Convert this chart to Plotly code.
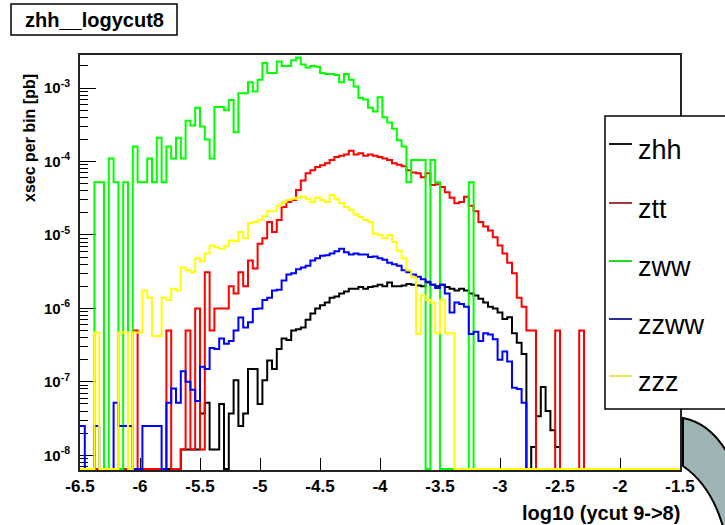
import numpy as np
import plotly.graph_objects as go

# ---- canvas geometry (pixels) ----
W, H = 725, 525
L_PX, R_PX, T_PX, B_PX = 80, 680, 55, 470

# ---- histogram binning ----
X_MIN, X_MAX, N_BINS = -6.5, -1.5, 125
Y_LOG_RANGE = [-8.2, -2.55]

# ---- per-bin cross sections [pb], 125 bins from -6.5 to -1.5 ----
zhh = [
    0, 0, 0, 0, 0, 0, 0, 0, 0, 0,
    0, 0, 0, 0, 0, 0, 0, 0, 0, 0,
    0, 1.2e-8, 1.2e-8, 1.2e-8, 1.2e-8, 3.7e-8, 5.2e-8, 1.2e-8, 1.2e-8, 5.0e-8,
    0, 3.7e-8, 1.05e-7, 2.5e-8, 3.7e-8, 1.5e-7, 1.5e-7, 5.0e-8, 1.05e-7, 1.95e-7,
    1.5e-7, 2.8e-7, 3.9e-7, 3.7e-7, 5.0e-7, 5.2e-7, 5.5e-7, 7.0e-7, 8.5e-7, 1.0e-6,
    1.1e-6, 1.2e-6, 1.4e-6, 1.45e-6, 1.6e-6, 1.7e-6, 1.85e-6, 1.85e-6, 1.95e-6, 1.85e-6,
    1.95e-6, 2.0e-6, 2.1e-6, 2.0e-6, 2.25e-6, 2.0e-6, 2.0e-6, 2.05e-6, 2.15e-6, 2.1e-6,
    2.05e-6, 2.0e-6, 2.25e-6, 2.1e-6, 2.0e-6, 2.1e-6, 1.95e-6, 1.85e-6, 1.75e-6, 1.85e-6,
    1.75e-6, 1.6e-6, 1.5e-6, 1.35e-6, 1.2e-6, 1.05e-6, 1.0e-6, 8.8e-7, 7.2e-7, 7.6e-7,
    4.6e-7, 3.4e-7, 2.4e-7, 0, 1.3e-8, 3.4e-8, 8.5e-8, 4.0e-8, 2.2e-8, 1.3e-8,
    0, 0, 0, 0, 0, 0, 0, 0, 0, 0,
    0, 0, 0, 0, 0, 0, 0, 0, 0, 0,
    0, 0, 0, 0, 0,
]

ztt = [
    0, 0, 0, 0, 0, 0, 0, 0, 0, 0,
    0, 5e-7, 0, 0, 0, 0, 0, 0, 5e-7, 0,
    0, 1.2e-8, 5e-7, 1.2e-8, 1.0e-6, 1.2e-8, 3.1e-6, 5e-7, 1.0e-6, 1.0e-6,
    1.0e-6, 2.0e-6, 1.6e-6, 3.1e-6, 2.0e-6, 4.5e-6, 3.5e-6, 7.6e-6, 9.0e-6, 1.5e-5,
    1.1e-5, 1.6e-5, 2.4e-5, 2.8e-5, 3.0e-5, 4.1e-5, 5.5e-5, 6.9e-5, 7.6e-5, 8.4e-5,
    8.9e-5, 9.5e-5, 1.05e-4, 1.15e-4, 1.2e-4, 1.25e-4, 1.4e-4, 1.25e-4, 1.3e-4, 1.2e-4,
    1.25e-4, 1.2e-4, 1.15e-4, 1.1e-4, 1.05e-4, 9.5e-5, 9.0e-5, 8.6e-5, 7.6e-5, 7.1e-5,
    6.9e-5, 6.1e-5, 6.9e-5, 4.8e-5, 4.9e-5, 4.5e-5, 3.8e-5, 3.2e-5, 2.7e-5, 2.8e-5,
    3.3e-5, 2.5e-5, 2.1e-5, 1.5e-5, 1.3e-5, 1.15e-5, 9.3e-6, 7.2e-6, 5.6e-6, 4.2e-6,
    3.0e-6, 1.4e-6, 1.05e-6, 5e-7, 5e-7, 0, 0, 0, 0, 5e-7,
    0, 0, 0, 0, 5e-7, 0, 0, 0, 0, 0,
    0, 0, 0, 0, 0, 0, 0, 0, 0, 0,
    0, 0, 0, 0, 0,
]

zww = [
    0, 0, 0, 5.2e-5, 5.2e-5, 0, 1.1e-4, 5.2e-5, 0, 5.2e-5,
    0, 1.6e-4, 5.2e-5, 5.2e-5, 1.1e-4, 5.2e-5, 2.1e-4, 5.2e-5, 1.6e-4, 1.1e-4,
    2.1e-4, 1.1e-4, 3.6e-4, 3.1e-4, 5.4e-4, 3.0e-4, 2.0e-4, 1.1e-4, 5.5e-4, 5.5e-4,
    5.0e-4, 6.9e-4, 2.5e-4, 8.5e-4, 8.5e-4, 1.2e-3, 9.0e-4, 1.3e-3, 2.2e-3, 1.6e-3,
    1.6e-3, 2.3e-3, 2.0e-3, 2.0e-3, 2.4e-3, 2.6e-3, 2.1e-3, 1.9e-3, 2.0e-3, 1.95e-3,
    1.6e-3, 1.55e-3, 1.55e-3, 1.5e-3, 1.2e-3, 1.55e-3, 1.3e-3, 1.05e-3, 7.3e-4, 7.0e-4,
    5.4e-4, 4.8e-4, 7.5e-4, 4.0e-4, 3.4e-4, 2.8e-4, 1.95e-4, 1.6e-4, 5.2e-5, 1.05e-4,
    1.05e-4, 1.05e-4, 0, 1.05e-4, 5.2e-5, 0, 0, 0, 0, 0,
    0, 5.2e-5, 0, 0, 0, 0, 0, 0, 0, 0,
    0, 0, 0, 0, 0, 0, 0, 0, 0, 0,
    0, 0, 0, 0, 0, 0, 0, 0, 0, 0,
    0, 0, 0, 0, 0, 0, 0, 0, 0, 0,
    0, 0, 0, 0, 0,
]

zzww = [
    2.5e-8, 0, 0, 2.5e-8, 0, 0, 0, 5.2e-8, 2.5e-8, 2.5e-8,
    2.5e-8, 0, 0, 2.5e-8, 2.5e-8, 2.5e-8, 2.5e-8, 0, 5.2e-8, 8.1e-8,
    5.2e-8, 1.4e-7, 1.0e-7, 7.8e-8, 5.5e-8, 1.6e-7, 1.5e-7, 2.9e-7, 2.8e-7, 3.9e-7,
    3.3e-7, 3.6e-7, 5.0e-7, 7.5e-7, 5.5e-7, 6.5e-7, 9.8e-7, 1.0e-6, 1.3e-6, 1.4e-6,
    1.75e-6, 1.8e-6, 2.4e-6, 2.9e-6, 3.0e-6, 3.4e-6, 3.6e-6, 3.8e-6, 4.5e-6, 4.8e-6,
    5.2e-6, 5.3e-6, 5.6e-6, 6.0e-6, 6.5e-6, 5.8e-6, 5.4e-6, 5.6e-6, 5.4e-6, 5.4e-6,
    5.0e-6, 5.1e-6, 4.8e-6, 4.6e-6, 4.2e-6, 4.0e-6, 3.8e-6, 3.3e-6, 3.1e-6, 2.9e-6,
    2.7e-6, 2.5e-6, 2.3e-6, 2.1e-6, 1.9e-6, 2.1e-6, 1.6e-6, 8.8e-7, 1.2e-6, 1.15e-6,
    1.05e-6, 4.5e-7, 4.8e-7, 3.6e-7, 4.6e-7, 4.4e-7, 3.8e-7, 2.0e-7, 2.6e-7, 1.9e-7,
    8.3e-8, 8.0e-8, 5.2e-8, 0, 0, 0, 0, 0, 0, 0,
    0, 0, 0, 0, 0, 0, 0, 0, 0, 0,
    0, 0, 0, 0, 0, 0, 0, 0, 0, 0,
    0, 0, 0, 0, 0,
]

zzz = [
    0, 0, 0, 4.7e-7, 0, 0, 0, 0, 4.7e-7, 4.7e-7,
    0, 4.7e-7, 4.7e-7, 1.75e-6, 1.4e-6, 4.2e-7, 4.2e-7, 1.4e-6, 1.3e-6, 1.85e-6,
    1.75e-6, 3.6e-6, 3.3e-6, 3.1e-6, 4.8e-6, 4.4e-6, 5.6e-6, 7.2e-6, 6.8e-6, 6.5e-6,
    7.0e-6, 8.4e-6, 8.2e-6, 1.1e-5, 9.0e-6, 1.45e-5, 1.5e-5, 1.6e-5, 1.8e-5, 2.1e-5,
    2.1e-5, 2.5e-5, 2.8e-5, 3.0e-5, 3.1e-5, 3.2e-5, 3.3e-5, 3.1e-5, 2.8e-5, 3.2e-5,
    3.0e-5, 2.8e-5, 3.5e-5, 3.1e-5, 2.7e-5, 2.4e-5, 2.2e-5, 1.9e-5, 1.75e-5, 1.6e-5,
    1.5e-5, 1.05e-5, 1.0e-5, 9.0e-6, 1.0e-5, 8.0e-6, 6.1e-6, 4.8e-6, 3.3e-6, 2.65e-6,
    4.5e-7, 1.5e-6, 1.3e-6, 1.2e-6, 4.6e-7, 1.3e-6, 4.6e-7, 4.6e-7, 0, 0,
    0, 0, 0, 0, 0, 0, 0, 0, 0, 0,
    0, 0, 0, 0, 0, 0, 0, 0, 0, 0,
    0, 0, 0, 0, 0, 0, 0, 0, 0, 0,
    0, 0, 0, 0, 0, 0, 0, 0, 0, 0,
    0, 0, 0, 0, 0,
]

series_names = ["zhh", "ztt", "zww", "zzww", "zzz"]
series_values = [zhh, ztt, zww, zzww, zzz]
line_colors = ["#000000", "#ff0000", "#00ff00", "#0000ff", "#ffff00"]
legend_colors = ["#1a1a1a", "#b03535", "#22dd22", "#2a2a9a", "#e8e860"]

x_tick_vals = [-6.5, -6, -5.5, -5, -4.5, -4, -3.5, -3, -2.5, -2, -1.5]
x_tick_text = ["-6.5", "-6", "-5.5", "-5", "-4.5", "-4", "-3.5", "-3", "-2.5", "-2", "-1.5"]
y_decades = [-8, -7, -6, -5, -4, -3]

edges = np.linspace(X_MIN, X_MAX, N_BINS + 1)
# empty bins are drawn along the lower edge of the frame
floor = 10 ** (Y_LOG_RANGE[0] + 0.012)


def step_xy(vals):
    y = [v if v > 0 else floor for v in vals]
    return list(edges), y + [y[-1]]


def px(x):
    return (x - L_PX) / (R_PX - L_PX)


def py(y):
    return (B_PX - y) / (B_PX - T_PX)


fig = go.Figure()
for name, vals, col in zip(series_names, series_values, line_colors):
    xs, ys = step_xy(vals)
    fig.add_trace(go.Scatter(
        x=xs, y=ys, mode="lines", name=name,
        line=dict(color=col, width=2, shape="hv"),
        showlegend=False, hoverinfo="skip",
    ))

minor_vals = [m * 10.0 ** d for d in range(-9, -1) for m in range(2, 10)]

fig.update_layout(
    width=W, height=H,
    margin=dict(l=L_PX, r=W - R_PX, t=T_PX, b=H - B_PX),
    paper_bgcolor="white", plot_bgcolor="white",
    font=dict(family="Liberation Sans, Arial, sans-serif", color="black"),
    xaxis=dict(
        range=[X_MIN, X_MAX], showgrid=False, zeroline=False,
        showline=True, linecolor="#222", linewidth=2, mirror=True,
        ticks="inside", ticklen=12, tickwidth=1, tickcolor="black",
        tickmode="array", tickvals=x_tick_vals, ticktext=x_tick_text,
        tickfont=dict(size=17, weight="bold"), ticklabelstandoff=0,
        layer="below traces",
    ),
    yaxis=dict(
        type="log", range=Y_LOG_RANGE, showgrid=False, zeroline=False,
        showline=True, linecolor="#222", linewidth=2, mirror=True,
        ticks="inside", ticklen=16, tickwidth=1, tickcolor="black",
        tickmode="array", tickvals=[10.0 ** d for d in y_decades],
        ticktext=["10<sup>%d</sup>" % d for d in y_decades],
        tickfont=dict(size=15, weight="bold"), ticklabelstandoff=5,
        minor=dict(ticks="inside", ticklen=8, tickwidth=1, tickcolor="black",
                   tickmode="array", tickvals=minor_vals),
        layer="below traces",
    ),
)

shapes = []
annotations = []

# histogram title box
shapes.append(dict(type="rect", xref="paper", yref="paper",
                   x0=px(11), x1=px(177), y0=py(35), y1=py(4),
                   line=dict(color="black", width=1.5), fillcolor="white"))
annotations.append(dict(xref="paper", yref="paper", x=px(94), y=py(20),
                        text="zhh__logycut8", showarrow=False,
                        font=dict(size=20, weight="bold"),
                        xanchor="center", yanchor="middle"))

# axis titles
annotations.append(dict(xref="paper", yref="paper", x=px(29), y=py(138),
                        text="xsec per bin [pb]", showarrow=False, textangle=-90,
                        font=dict(size=16, weight="bold"),
                        xanchor="center", yanchor="middle"))
annotations.append(dict(xref="paper", yref="paper", x=px(682), y=py(513),
                        text="log10 (ycut 9->8)", showarrow=False,
                        font=dict(size=20, weight="bold"),
                        xanchor="right", yanchor="middle"))

# legend panel
shapes.append(dict(type="rect", xref="paper", yref="paper",
                   x0=px(605), x1=px(740), y0=py(409), y1=py(116),
                   line=dict(color="black", width=1.5), fillcolor="white"))
entry_y = [150, 209, 267, 325, 382]
for name, col, yy in zip(series_names, legend_colors, entry_y):
    shapes.append(dict(type="line", xref="paper", yref="paper",
                       x0=px(609), x1=px(632), y0=py(yy - 6), y1=py(yy - 6),
                       line=dict(color=col, width=2)))
    annotations.append(dict(xref="paper", yref="paper", x=px(636), y=py(yy),
                            text=name, showarrow=False,
                            font=dict(size=27),
                            xanchor="left", yanchor="middle"))

# corner ornament
path = "M {a},{b} Q {c},{d} {e},{f} L {g},{h} L {i},{j} Q {k},{l} {m},{n} Z".format(
    a=px(683), b=py(418), c=px(714), d=py(424), e=px(732), f=py(462),
    g=px(732), h=py(530), i=px(724), j=py(530), k=px(712), l=py(486),
    m=px(683), n=py(466))
shapes.append(dict(type="path", xref="paper", yref="paper", path=path,
                   fillcolor="#9fb5b5", line=dict(color="black", width=2)))

fig.update_layout(shapes=shapes, annotations=annotations)
fig.write_html("out.html")
